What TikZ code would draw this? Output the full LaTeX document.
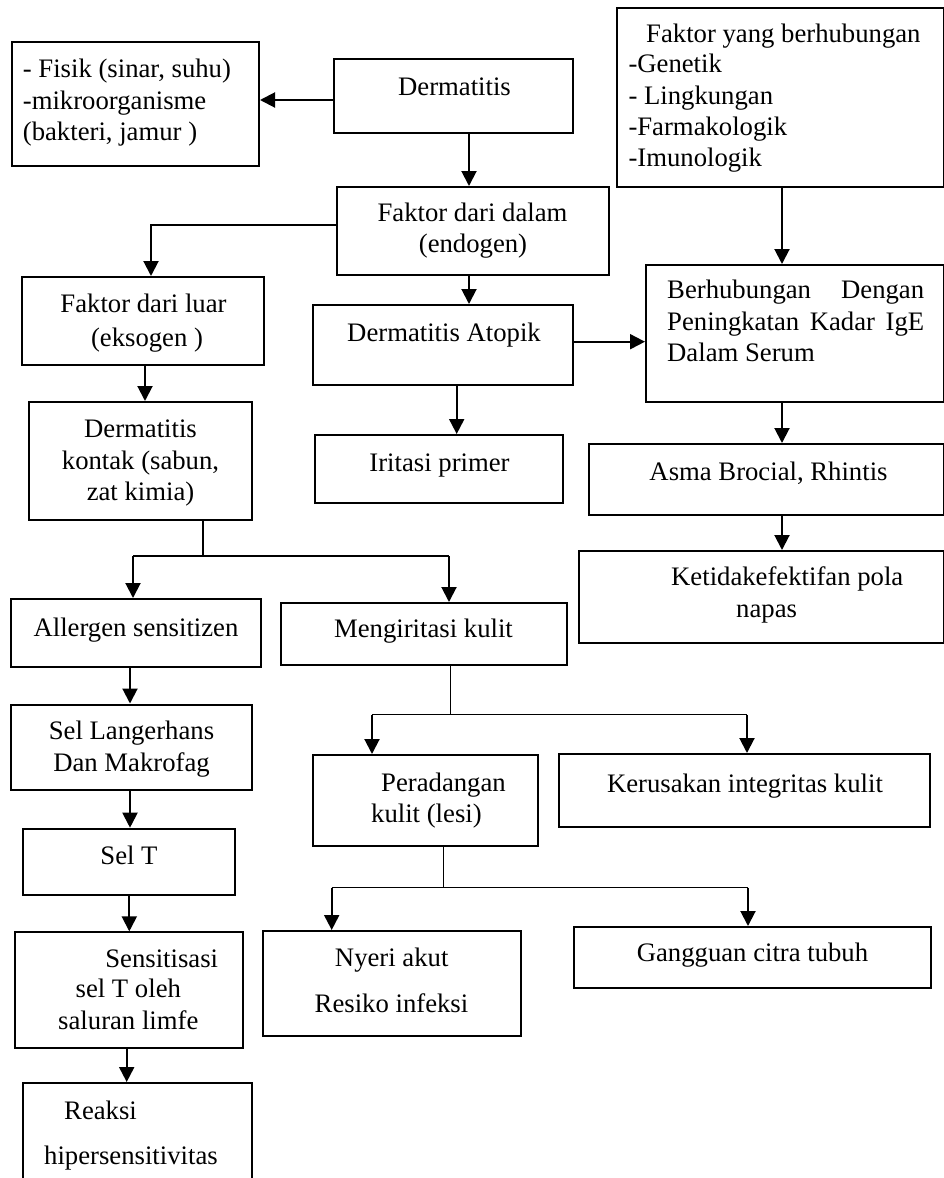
\documentclass[tikz,border=0pt]{standalone}
\usepackage{fontspec}
\setmainfont{Liberation Serif}
\usetikzlibrary{arrows.meta}
\begin{document}
\begin{tikzpicture}[x=1pt,y=-1pt,
  box/.style={draw, line width=2pt, inner sep=0pt, rectangle},
  txt/.style={inner sep=0pt, font=\fontsize{26.7}{32}\selectfont},
  arr/.style={line width=2pt, -{Triangle[length=15pt,width=15pt]}},
  stem/.style={line width=1.5pt}]
\useasboundingbox (0,0) rectangle (944,1178);
\fill[white] (0,0) rectangle (944,1178);
\clip (0,0) rectangle (944,1178);

% ---------- boxes ----------
\node[box, minimum width=247pt, minimum height=124pt] (fisik) at (135.5,104) {};
\node[box, minimum width=239pt, minimum height=74pt] (dermatitis) at (453.5,96) {};
\node[box, minimum width=272pt, minimum height=88pt] (dalam) at (473,231) {};
\node[box, minimum width=242pt, minimum height=88pt] (luar) at (143,321) {};
\node[box, minimum width=223pt, minimum height=118pt] (kontak) at (140.5,461) {};
\node[box, minimum width=260pt, minimum height=80pt] (atopik) at (443,345) {};
\node[box, minimum width=248pt, minimum height=68pt] (iritasi) at (439,469) {};
\node[box, minimum width=326.5pt, minimum height=179pt] (fb) at (780.25,97.5) {};
\node[box, minimum width=297.5pt, minimum height=137pt] (berh) at (794.75,333.5) {};
\node[box, minimum width=354.5pt, minimum height=71pt] (asma) at (766.25,479.5) {};
\node[box, minimum width=364.5pt, minimum height=92pt] (ketidak) at (761.25,597) {};
\node[box, minimum width=250pt, minimum height=68pt] (allergen) at (136,633) {};
\node[box, minimum width=286pt, minimum height=62pt] (mengiritasi) at (424,634) {};
\node[box, minimum width=241pt, minimum height=85pt] (sell) at (131.5,747) {};
\node[box, minimum width=212.6pt, minimum height=66.6pt] (selt) at (129,862) {};
\node[box, minimum width=228.3pt, minimum height=115.3pt] (sens) at (128.85,990) {};
\node[box, minimum width=229.3pt, minimum height=117pt] (reaksi) at (137.65,1141.5) {};
\node[box, minimum width=225.3pt, minimum height=91pt] (peradangan) at (425.35,800.5) {};
\node[box, minimum width=371pt, minimum height=73pt] (kerusakan) at (744.5,790.5) {};
\node[box, minimum width=258pt, minimum height=104.7pt] (nyeri) at (391.7,983.35) {};
\node[box, minimum width=357pt, minimum height=61pt] (gangguan) at (752.5,957.5) {};

% ---------- texts ----------
\node[txt, anchor=base west] (fisik-t1) at (22.7,77.3) {- Fisik (sinar, suhu)};
\node[txt, anchor=base west] (fisik-t2) at (22.7,109) {-mikroorganisme};
\node[txt, anchor=base west] (fisik-t3) at (22.7,140) {(bakteri, jamur )};
\node[txt, anchor=base] (dermatitis-t) at (454.5,95) {Dermatitis};
\node[txt, anchor=base] (dalam-t1) at (472.5,221.7) {Faktor dari dalam};
\node[txt, anchor=base] (dalam-t2) at (473,252) {(endogen)};
\node[txt, anchor=base] (luar-t1) at (143.5,312.3) {Faktor dari luar};
\node[txt, anchor=base] (luar-t2) at (147,346) {(eksogen )};
\node[txt, anchor=base] (kontak-t1) at (140.5,437.7) {Dermatitis};
\node[txt, anchor=base] (kontak-t2) at (140.5,469) {kontak (sabun,};
\node[txt, anchor=base] (kontak-t3) at (140.5,500.7) {zat kimia)};
\node[txt, anchor=base] (atopik-t) at (444,341.7) {Dermatitis Atopik};
\node[txt, anchor=base] (iritasi-t) at (439.5,471.7) {Iritasi primer};
\node[txt, anchor=base west] (fb-t1) at (646,42.7) {Faktor yang berhubungan};
\node[txt, anchor=base west] (fb-t2) at (628.3,72.7) {-Genetik};
\node[txt, anchor=base west] (fb-t3) at (628.3,104) {- Lingkungan};
\node[txt, anchor=base west] (fb-t4) at (628.3,135) {-Farmakologik};
\node[txt, anchor=base west] (fb-t5) at (628.3,166.7) {-Imunologik};
\node[txt, anchor=base west] (berh-t1) at (667,298.3) {\makebox[257pt][s]{Berhubungan Dengan}};
\node[txt, anchor=base west] (berh-t2) at (667,330) {\makebox[257pt][s]{Peningkatan Kadar IgE}};
\node[txt, anchor=base west] (berh-t3) at (667,361.7) {Dalam Serum};
\node[txt, anchor=base] (asma-t) at (768.5,480) {Asma Brocial, Rhintis};
\node[txt, anchor=base west] (ketidak-t1) at (671,585) {Ketidakefektifan pola};
\node[txt, anchor=base west] (ketidak-t2) at (736,617) {napas};
\node[txt, anchor=base] (allergen-t) at (136,636) {Allergen sensitizen};
\node[txt, anchor=base] (mengiritasi-t) at (423.5,637.5) {Mengiritasi kulit};
\node[txt, anchor=base] (sell-t1) at (131.5,739.5) {Sel Langerhans};
\node[txt, anchor=base] (sell-t2) at (131.5,771.4) {Dan Makrofag};
\node[txt, anchor=base] (selt-t) at (129,864.8) {Sel T};
\node[txt, anchor=base east] (sens-t1) at (218.3,967.7) {Sensitisasi};
\node[txt, anchor=base] (sens-t2) at (128.3,997.6) {sel T oleh};
\node[txt, anchor=base] (sens-t3) at (128.3,1029.5) {saluran limfe};
\node[txt, anchor=base west] (reaksi-t1) at (64,1119.3) {Reaksi};
\node[txt, anchor=base west] (reaksi-t2) at (44,1164) {hipersensitivitas};
\node[txt, anchor=base west] (peradangan-t1) at (381,791) {Peradangan};
\node[txt, anchor=base west] (peradangan-t2) at (371,822) {kulit (lesi)};
\node[txt, anchor=base] (kerusakan-t) at (745,792) {Kerusakan integritas kulit};
\node[txt, anchor=base] (nyeri-t1) at (391.7,966.7) {Nyeri akut};
\node[txt, anchor=base] (nyeri-t2) at (391.5,1012.7) {Resiko infeksi};
\node[txt, anchor=base] (gangguan-t) at (752.5,961.7) {Gangguan citra tubuh};

% ---------- connector guide coordinates ----------
\coordinate (cA) at (469,0);
\coordinate (cB) at (0,100);
\coordinate (cC) at (151,225);
\coordinate (cD) at (0,341.7);
\coordinate (cE) at (456.7,0);
\coordinate (cF) at (782,0);
\coordinate (cG) at (145,0);
\coordinate (cH) at (130,0);
\coordinate (cI) at (129.3,0);
\coordinate (cJ) at (126.7,0);
\coordinate (j1) at (203,556);
\coordinate (j1l) at (133,556);
\coordinate (j1r) at (449,556);
\coordinate (j2) at (450.7,714.5);
\coordinate (j2l) at (372,714.5);
\coordinate (j2r) at (747,714.5);
\coordinate (j3) at (443.3,887.5);
\coordinate (j3l) at (331.7,887.5);
\coordinate (j3r) at (748,887.5);

% ---------- connectors ----------
\draw[arr] (dermatitis.west |- cB) -- (fisik.east |- cB);
\draw[arr] (dermatitis.south -| cA) -- (dalam.north -| cA);
\draw[arr] (dalam.south -| cA) -- (atopik.north -| cA);
\draw[arr] (dalam.west |- cC) -| (luar.north -| cC);
\draw[arr] (atopik.east |- cD) -- (berh.west |- cD);
\draw[arr] (atopik.south -| cE) -- (iritasi.north -| cE);
\draw[arr] (fb.south -| cF) -- (berh.north -| cF);
\draw[arr] (berh.south -| cF) -- (asma.north -| cF);
\draw[arr] (asma.south -| cF) -- (ketidak.north -| cF);
\draw[arr] (luar.south -| cG) -- (kontak.north -| cG);

\draw[stem] (kontak.south -| j1) -- (j1);
\draw[stem] (j1l) -- (j1r);
\draw[arr] (j1l) -- (allergen.north -| j1l);
\draw[arr] (j1r) -- (mengiritasi.north -| j1r);

\draw[arr] (allergen.south -| cH) -- (sell.north -| cH);
\draw[arr] (sell.south -| cH) -- (selt.north -| cH);
\draw[arr] (selt.south -| cI) -- (sens.north -| cI);
\draw[arr] (sens.south -| cJ) -- (reaksi.north -| cJ);

\draw[stem] (mengiritasi.south -| j2) -- (j2);
\draw[stem] (j2l) -- (j2r);
\draw[arr] (j2l) -- (peradangan.north -| j2l);
\draw[arr] (j2r) -- (kerusakan.north -| j2r);

\draw[stem] (peradangan.south -| j3) -- (j3);
\draw[stem] (j3l) -- (j3r);
\draw[arr] (j3l) -- (nyeri.north -| j3l);
\draw[arr] (j3r) -- (gangguan.north -| j3r);
\end{tikzpicture}
\end{document}
